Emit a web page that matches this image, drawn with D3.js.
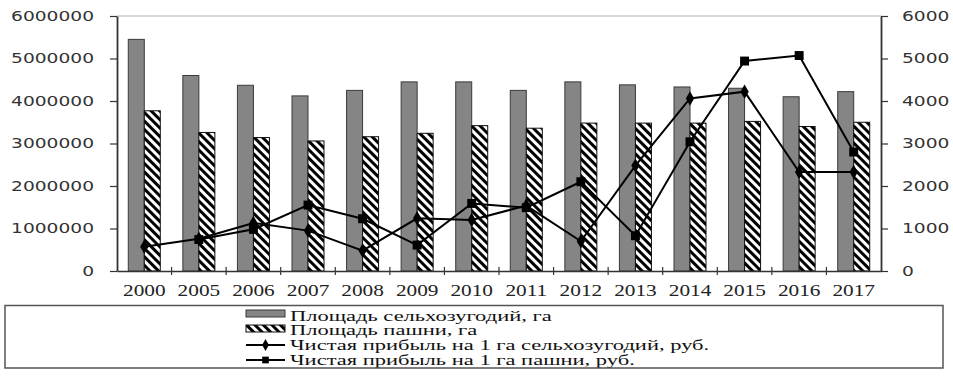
<!DOCTYPE html>
<html>
<head>
<meta charset="utf-8">
<script src="https://cdn.jsdelivr.net/npm/d3@7"></script>
<style>
  html,body{margin:0;padding:0;background:#fff;}
  svg{display:block;}
</style>
</head>
<body>
<div id="chart"></div>
<script>
// data
const years = ['2000','2005','2006','2007','2008','2009','2010','2011','2012','2013','2014','2015','2016','2017'];
const areaAgri = [5450000,4600000,4370000,4120000,4250000,4450000,4450000,4250000,4450000,4380000,4330000,4300000,4100000,4220000];
const areaArable = [3770000,3260000,3140000,3060000,3160000,3240000,3420000,3360000,3480000,3480000,3480000,3520000,3400000,3500000];
const profitAgri = [570,760,1130,950,480,1240,1200,1540,700,2480,4060,4220,2330,2330];
const profitArable = [null,740,980,1550,1230,610,1590,1490,2100,830,3040,4940,5070,2800];
const leftTicks = [0,1000000,2000000,3000000,4000000,5000000,6000000];
const rightTicks = [0,1000,2000,3000,4000,5000,6000];
const legendLabels = ['Площадь сельхозугодий, га','Площадь пашни, га','Чистая прибыль на 1 га сельхозугодий, руб.','Чистая прибыль на 1 га пашни, руб.'];

(function(){
  const W = 953, H = 380;
  const SX = 1.33; // the source picture is stretched sideways
  const margin = {top:16, right:72, bottom:109, left:117};
  const serif = '"Liberation Serif","Times New Roman",serif';
  const sans = '"DejaVu Sans",Verdana,sans-serif';

  const svg = d3.select('#chart').append('svg').attr('width',W).attr('height',H);

  const defs = svg.append('defs');
  const pat = defs.append('pattern').attr('id','hatch').attr('patternUnits','userSpaceOnUse')
    .attr('width',6).attr('height',6).attr('patternTransform','rotate(45)');
  pat.append('rect').attr('width',6).attr('height',6).attr('fill','#fff');
  pat.append('rect').attr('width',6).attr('height',3).attr('fill','#000');

  function stretch(k){
    return function(sel){
      sel.each(function(){
        const len = this.getComputedTextLength();
        d3.select(this).attr('textLength',len*k).attr('lengthAdjust','spacingAndGlyphs');
      });
    };
  }

  const x = d3.scaleBand().domain(years).range([margin.left, W-margin.right]).padding(0);
  const xs = d3.scaleBand().domain(['agri','arable']).range([0,x.bandwidth()]).paddingInner(0).paddingOuter(0.705);
  const y = d3.scaleLinear().domain([0,6000000]).range([H-margin.bottom, margin.top]);
  const y2 = d3.scaleLinear().domain([0,6000]).range([H-margin.bottom, margin.top]);

  // top border of plot area
  svg.append('line').attr('x1',margin.left).attr('x2',W-margin.right)
    .attr('y1',y(6000000)).attr('y2',y(6000000)).attr('stroke','#b0b0b0').attr('stroke-width',1.2);

  // bars
  const g = svg.append('g');
  g.selectAll('rect.agri').data(years).enter().append('rect').attr('class','agri')
    .attr('x',(d)=>x(d)+xs('agri')).attr('width',xs.bandwidth())
    .attr('y',(d,i)=>y(areaAgri[i])).attr('height',(d,i)=>y(0)-y(areaAgri[i]))
    .attr('fill','#858585').attr('stroke','#3a3a3a').attr('stroke-width',1);
  g.selectAll('rect.arable').data(years).enter().append('rect').attr('class','arable')
    .attr('x',(d)=>x(d)+xs('arable')).attr('width',xs.bandwidth())
    .attr('y',(d,i)=>y(areaArable[i])).attr('height',(d,i)=>y(0)-y(areaArable[i]))
    .attr('fill','url(#hatch)').attr('stroke','#111').attr('stroke-width',1);

  // axes
  const axL = svg.append('g').attr('transform',`translate(${margin.left},0)`)
    .call(d3.axisLeft(y).tickValues(leftTicks).tickSize(7).tickPadding(16).tickSizeOuter(0).tickFormat(d3.format('d')));
  const axR = svg.append('g').attr('transform',`translate(${W-margin.right},0)`)
    .call(d3.axisRight(y2).tickValues(rightTicks).tickSize(7).tickPadding(14).tickSizeOuter(0).tickFormat(d3.format('d')));
  [axL,axR].forEach(a=>{
    a.select('.domain').attr('stroke','#333').attr('stroke-width',1.8);
    a.selectAll('.tick line').attr('stroke','#333').attr('stroke-width',1.2);
    a.selectAll('.tick text').attr('font-family',sans).attr('font-size',14).attr('fill','#333').call(stretch(SX));
  });

  const axB = svg.append('g').attr('transform',`translate(0,${y(0)})`)
    .call(d3.axisBottom(x).tickSize(0).tickPadding(14).tickSizeOuter(0));
  axB.select('.domain').attr('stroke','#333').attr('stroke-width',1.5);
  axB.selectAll('.tick text').attr('font-family',serif).attr('font-size',16).attr('fill','#222').call(stretch(SX));
  // category boundary ticks
  axB.selectAll('line.sep').data(years.slice(1)).enter().append('line').attr('class','sep')
    .attr('x1',d=>x(d)).attr('x2',d=>x(d)).attr('y1',-4).attr('y2',4)
    .attr('stroke','#333').attr('stroke-width',1.2);

  // lines
  const cx = d=>x(d)+x.bandwidth()/2;
  const line = d3.line().defined(d=>d[1]!=null).x(d=>cx(d[0])).y(d=>y2(d[1]));
  const ptsAgri = years.map((d,i)=>[d,profitAgri[i]]);
  const ptsArable = years.map((d,i)=>[d,profitArable[i]]);
  svg.append('path').datum(ptsAgri).attr('d',line).attr('fill','none').attr('stroke','#000').attr('stroke-width',2);
  svg.append('path').datum(ptsArable).attr('d',line).attr('fill','none').attr('stroke','#000').attr('stroke-width',2);
  const diamond = d3.symbol().type(d3.symbolDiamond).size(60);
  const square = d3.symbol().type(d3.symbolSquare).size(80);
  svg.selectAll('path.dia').data(ptsAgri.filter(d=>d[1]!=null)).enter().append('path').attr('class','dia')
    .attr('d',diamond).attr('transform',d=>`translate(${cx(d[0])},${y2(d[1])})`).attr('fill','#000');
  svg.selectAll('path.sq').data(ptsArable.filter(d=>d[1]!=null)).enter().append('path').attr('class','sq')
    .attr('d',square).attr('transform',d=>`translate(${cx(d[0])},${y2(d[1])})`).attr('fill','#000');

  // legend
  const lg = svg.append('g');
  const base = [320.5, 335, 350, 365];
  const symX = 246, symW = 39, txtX = 290;
  lg.append('rect').attr('x',symX).attr('y',310).attr('width',symW).attr('height',7)
    .attr('fill','#858585').attr('stroke','#3a3a3a');
  lg.append('rect').attr('x',symX).attr('y',325).attr('width',symW).attr('height',7)
    .attr('fill','url(#hatch)').attr('stroke','#111');
  [2,3].forEach(i=>{
    lg.append('line').attr('x1',symX).attr('x2',symX+symW).attr('y1',base[i]-5).attr('y2',base[i]-5)
      .attr('stroke','#000').attr('stroke-width',2);
  });
  lg.append('path').attr('d',d3.symbol().type(d3.symbolDiamond).size(40))
    .attr('transform',`translate(${symX+symW/2},${base[2]-5})`);
  lg.append('path').attr('d',d3.symbol().type(d3.symbolSquare).size(45))
    .attr('transform',`translate(${symX+symW/2},${base[3]-5})`);
  lg.selectAll('text').data(legendLabels).enter().append('text')
    .attr('x',txtX).attr('y',(d,i)=>base[i])
    .attr('font-family',serif).attr('font-size',15).attr('fill','#111')
    .text(d=>d).call(stretch(1.5));
  lg.append('rect').attr('x',5).attr('y',305.5).attr('width',938).attr('height',62.5)
    .attr('fill','none').attr('stroke','#555').attr('stroke-width',1.5);
})();
</script>
</body>
</html>
